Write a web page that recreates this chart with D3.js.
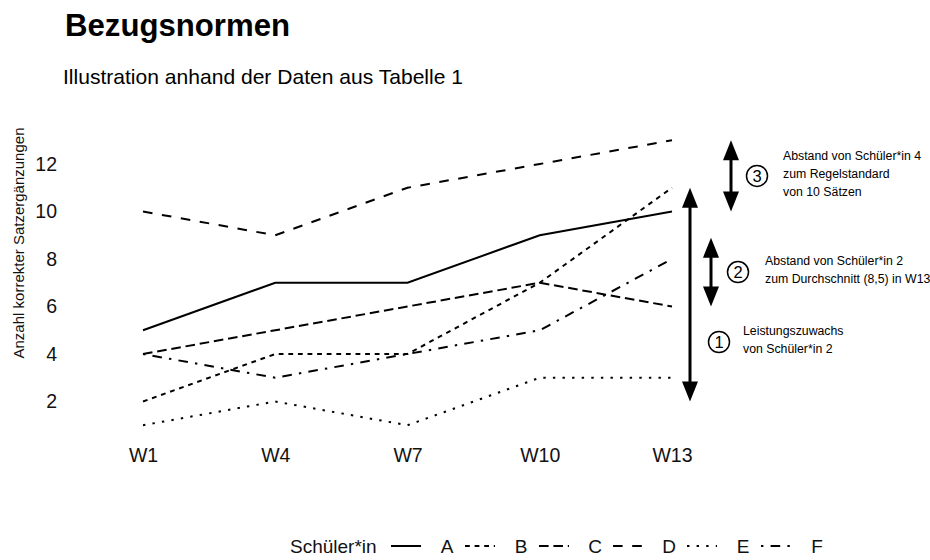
<!DOCTYPE html>
<html>
<head>
<meta charset="utf-8">
<script src="https://cdn.jsdelivr.net/npm/d3@7"></script>
<style>
  html, body { margin: 0; padding: 0; background: #fff; }
  svg { display: block; font-family: "Liberation Sans", Arial, Helvetica, sans-serif; }
</style>
</head>
<body>
<svg id="chart" width="930" height="560"></svg>
<script>
// ---- data ----
const weeks = ["W1", "W4", "W7", "W10", "W13"];
const students = ["A", "B", "C", "D", "E", "F"];
const valuesA = [5, 7, 7, 9, 10];
const valuesB = [2, 4, 4, 7, 11];
const valuesC = [4, 5, 6, 7, 6];
const valuesD = [10, 9, 11, 12, 13];
const valuesE = [1, 2, 1, 3, 3];
const valuesF = [4, 3, 4, 5, 8];
const yTicks = [2, 4, 6, 8, 10, 12];
const titleText = "Bezugsnormen";
const subtitleText = "Illustration anhand der Daten aus Tabelle 1";
const yTitleText = "Anzahl korrekter Satzergänzungen";
const legendTitle = "Schüler*in";
// annotation arrows (in data units) and their labels
const arrowFrom = [2, 6, 10];
const arrowTo = [11, 8.9, 13];
const arrowNumbers = ["1", "2", "3"];
const arrowLabels = [
  ["Leistungszuwachs", "von Schüler*in 2"],
  ["Abstand von Schüler*in 2", "zum Durchschnitt (8,5) in W13"],
  ["Abstand von Schüler*in 4", "zum Regelstandard", "von 10 Sätzen"]
];

const series = [valuesA, valuesB, valuesC, valuesD, valuesE, valuesF];

// ---- styles ----
const u = 2.4; // dash unit
const dashPatterns = {
  A: null,
  B: [2, 2],
  C: [4, 2],
  D: [4, 4],
  E: [1, 3],
  F: [1, 3, 4, 3]
};
const dashStr = s => dashPatterns[s] ? dashPatterns[s].map(d => d * u).join(",") : null;

const svg = d3.select("#chart");
svg.append("rect").attr("width", 930).attr("height", 560).attr("fill", "#fff");

const x = d3.scalePoint().domain(weeks).range([143, 672]);
const y = d3.scaleLinear().domain([0, 13]).range([449, 140.25]);

// titles
svg.append("text").attr("x", 65).attr("y", 36)
  .attr("font-size", 31).attr("font-weight", "bold").attr("fill", "#000")
  .attr("textLength", 225).attr("lengthAdjust", "spacingAndGlyphs")
  .text(titleText);
svg.append("text").attr("x", 63).attr("y", 84)
  .attr("font-size", 21).attr("fill", "#000")
  .attr("textLength", 400).attr("lengthAdjust", "spacingAndGlyphs")
  .text(subtitleText);

// y axis title
svg.append("text")
  .attr("transform", "translate(24,243) rotate(-90)")
  .attr("text-anchor", "middle")
  .attr("font-size", 15).attr("fill", "#111")
  .text(yTitleText);

// axes
const yAxis = svg.append("g").attr("transform", "translate(60,0)")
  .call(d3.axisLeft(y).tickValues(yTicks).tickSize(0).tickPadding(3));
yAxis.select(".domain").remove();
yAxis.selectAll("text").attr("font-size", 19.5).attr("fill", "#111")
  .attr("font-family", "'Liberation Sans', Arial, sans-serif");

const xAxis = svg.append("g").attr("transform", "translate(0,440)")
  .call(d3.axisBottom(x).tickSize(0).tickPadding(8));
xAxis.select(".domain").remove();
xAxis.selectAll("text").attr("font-size", 19.5).attr("fill", "#111")
  .attr("font-family", "'Liberation Sans', Arial, sans-serif");

// lines
const line = d3.line().x((d, i) => x(weeks[i])).y(d => y(d));
svg.append("g").selectAll("path").data(series).join("path")
  .attr("d", d => line(d))
  .attr("fill", "none").attr("stroke", "#000").attr("stroke-width", 2)
  .attr("stroke-dasharray", (d, i) => dashStr(students[i]));

// annotations
const arrowX = [690, 711, 731];
const circleX = [719, 738, 757];
const textX = [743, 765, 783];
const headL = 20, headW = 8;
const ann = svg.append("g");
arrowFrom.forEach((f, i) => {
  const y1 = y(f), y2 = y(arrowTo[i]);
  const top = Math.min(y1, y2), bot = Math.max(y1, y2);
  const ax = arrowX[i];
  ann.append("line").attr("x1", ax).attr("x2", ax)
    .attr("y1", top + headL - 2).attr("y2", bot - headL + 2)
    .attr("stroke", "#000").attr("stroke-width", 3);
  ann.append("path")
    .attr("d", `M${ax},${top} L${ax - headW},${top + headL} L${ax + headW},${top + headL} Z`)
    .attr("fill", "#000");
  ann.append("path")
    .attr("d", `M${ax},${bot} L${ax - headW},${bot - headL} L${ax + headW},${bot - headL} Z`)
    .attr("fill", "#000");
  const cy = (top + bot) / 2;
  const lines = arrowLabels[i];
  const lh = 18;
  const cyAdj = i === 0 ? 342 : cy;
  ann.append("circle").attr("cx", circleX[i]).attr("cy", cyAdj).attr("r", 10.5)
    .attr("fill", "#fff").attr("stroke", "#000").attr("stroke-width", 1.5);
  ann.append("text").attr("x", circleX[i]).attr("y", cyAdj + 6)
    .attr("text-anchor", "middle").attr("font-size", 16.5).attr("fill", "#000")
    .text(arrowNumbers[i]);
  const t0 = cyAdj - (lines.length - 1) * lh / 2 - 2;
  lines.forEach((s, j) => {
    ann.append("text").attr("x", textX[i]).attr("y", t0 + j * lh + 4.3)
      .attr("font-size", 12.3).attr("fill", "#000").text(s);
  });
});

// legend
const legY = 546;
const leg = svg.append("g");
leg.append("text").attr("x", 290).attr("y", legY + 7)
  .attr("font-size", 19).attr("fill", "#111").text(legendTitle);
students.forEach((s, i) => {
  const lc = 447 + 74 * i;
  const ks = lc - 56;
  leg.append("line").attr("x1", ks).attr("x2", ks + 30)
    .attr("y1", legY).attr("y2", legY)
    .attr("stroke", "#000").attr("stroke-width", 2)
    .attr("stroke-dasharray", dashStr(s));
  leg.append("text").attr("x", lc).attr("y", legY + 7)
    .attr("text-anchor", "middle").attr("font-size", 19).attr("fill", "#111").text(s);
});
</script>
</body>
</html>
